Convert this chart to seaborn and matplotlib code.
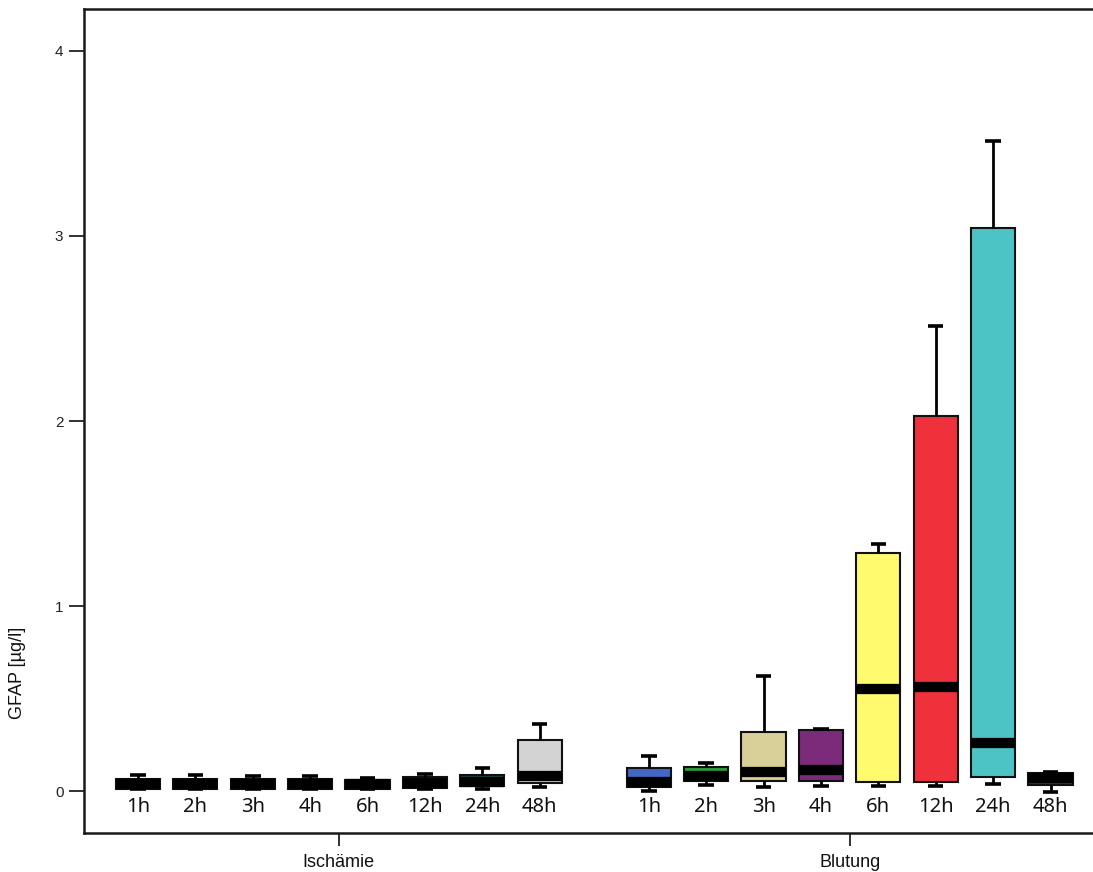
import numpy as np
import pandas as pd
import matplotlib
matplotlib.use("Agg")
import matplotlib.pyplot as plt
import seaborn as sns

# Time points and groups
times = ["1h", "2h", "3h", "4h", "6h", "12h", "24h", "48h"]
groups = ["Ischämie", "Blutung"]

# Five-number summaries of GFAP [µg/l] per time point (min, Q1, median, Q3, max)
isch_min = [0.010, 0.010, 0.010, 0.010, 0.010, 0.012, 0.010, 0.020]
isch_q1 = [0.012, 0.012, 0.012, 0.012, 0.012, 0.018, 0.025, 0.045]
isch_median = [0.040, 0.040, 0.040, 0.040, 0.040, 0.045, 0.050, 0.081]
isch_q3 = [0.065, 0.065, 0.065, 0.065, 0.060, 0.075, 0.086, 0.276]
isch_max = [0.085, 0.085, 0.080, 0.080, 0.072, 0.092, 0.124, 0.360]

blut_min = [0.000, 0.035, 0.020, 0.027, 0.027, 0.027, 0.038, -0.005]
blut_q1 = [0.022, 0.055, 0.054, 0.054, 0.049, 0.049, 0.076, 0.030]
blut_median = [0.046, 0.080, 0.103, 0.111, 0.549, 0.560, 0.257, 0.070]
blut_q3 = [0.124, 0.130, 0.320, 0.330, 1.287, 2.027, 3.045, 0.100]
blut_max = [0.190, 0.150, 0.620, 0.335, 1.337, 2.515, 3.515, 0.105]

# Box fill colours
isch_colors = ["#111111", "#111111", "#111111", "#111111", "#111111",
               "#111111", "#1E4A48", "#D3D3D3"]
blut_colors = ["#4466C4", "#2E9A3A", "#D8D098", "#7C2A7A", "#FFFA6E",
               "#EE313A", "#4CC4C6", "#3A3A3A"]

# Assemble long-form data; each box is built from its five summary values
pos_isch = np.arange(len(times), dtype=float)
pos_blut = np.arange(len(times), dtype=float) + 8.9
rows = []
palette = {}
for group, positions, cols, stats in [
    (groups[0], pos_isch, isch_colors,
     (isch_min, isch_q1, isch_median, isch_q3, isch_max)),
    (groups[1], pos_blut, blut_colors,
     (blut_min, blut_q1, blut_median, blut_q3, blut_max)),
]:
    for i, t in enumerate(times):
        key = f"{group} {t}"
        palette[key] = cols[i]
        for arr in stats:
            rows.append({"pos": positions[i], "value": arr[i], "box": key})
df = pd.DataFrame(rows)

sns.set_theme(style="ticks")
plt.rcParams["font.family"] = ["Liberation Sans", "DejaVu Sans"]

W, H = 1093, 872
fig = plt.figure(figsize=(W / 100, H / 100), dpi=100)
ax = fig.add_axes([84 / W, 1 - 833 / H, 1 - 84 / W, (833 - 9) / H])

box_width = 0.77
sns.boxplot(
    data=df, x="pos", y="value", hue="box", palette=palette,
    native_scale=True, dodge=False, width=box_width, whis=(0, 100),
    saturation=1, linewidth=1.5, linecolor="#111111", legend=False,
    showfliers=False,
    medianprops=dict(linewidth=7.4, solid_capstyle="butt", color="black"),
    whiskerprops=dict(linewidth=2.0, color="black"),
    capprops=dict(linewidth=2.6, color="black", solid_capstyle="butt"),
    ax=ax,
)

# Narrow the whisker caps
cap_half = 0.135
for line in ax.lines:
    xd = np.asarray(line.get_xdata(), dtype=float)
    yd = np.asarray(line.get_ydata(), dtype=float)
    if len(xd) == 2 and np.isclose(yd[0], yd[1]) and (xd[1] - xd[0]) < 0.6 * box_width:
        c = xd.mean()
        line.set_xdata([c - cap_half, c + cap_half])

# Time labels under each box
for positions in (pos_isch, pos_blut):
    for p, t in zip(positions, times):
        ax.text(p, -0.0865, t, ha="center", va="center", fontsize=14.5,
                family=["Noto Sans", "DejaVu Sans"], color="#111111")

ax.set_xlim(-0.941, 16.64)
ax.set_ylim(-0.227, 4.227)

ax.set_yticks([0, 1, 2, 3, 4])
ax.set_yticklabels(["0", "1", "2", "3", "4"], fontsize=11, color="#222222")
ax.set_xticks([pos_isch.mean(), pos_blut.mean()])
ax.set_xticklabels(groups, fontsize=13, color="#111111")
ax.tick_params(axis="y", left=True, length=10.8, width=1.3, pad=4,
               color="#222222", direction="out")
ax.tick_params(axis="x", bottom=True, length=9.4, width=1.3, pad=6,
               color="#222222", direction="out")
ax.set_xlabel("")
ax.set_ylabel("")

for side in ("left", "top", "bottom"):
    ax.spines[side].set_visible(True)
    ax.spines[side].set_linewidth(1.8)
    ax.spines[side].set_color("#1a1a1a")
ax.spines["right"].set_visible(False)

fig.text(18 / W, 1 - 673 / H, "GFAP [µg/l]", rotation=90, ha="center",
         va="center", fontsize=13, color="#111111")

fig.savefig("out.png", dpi=100)
